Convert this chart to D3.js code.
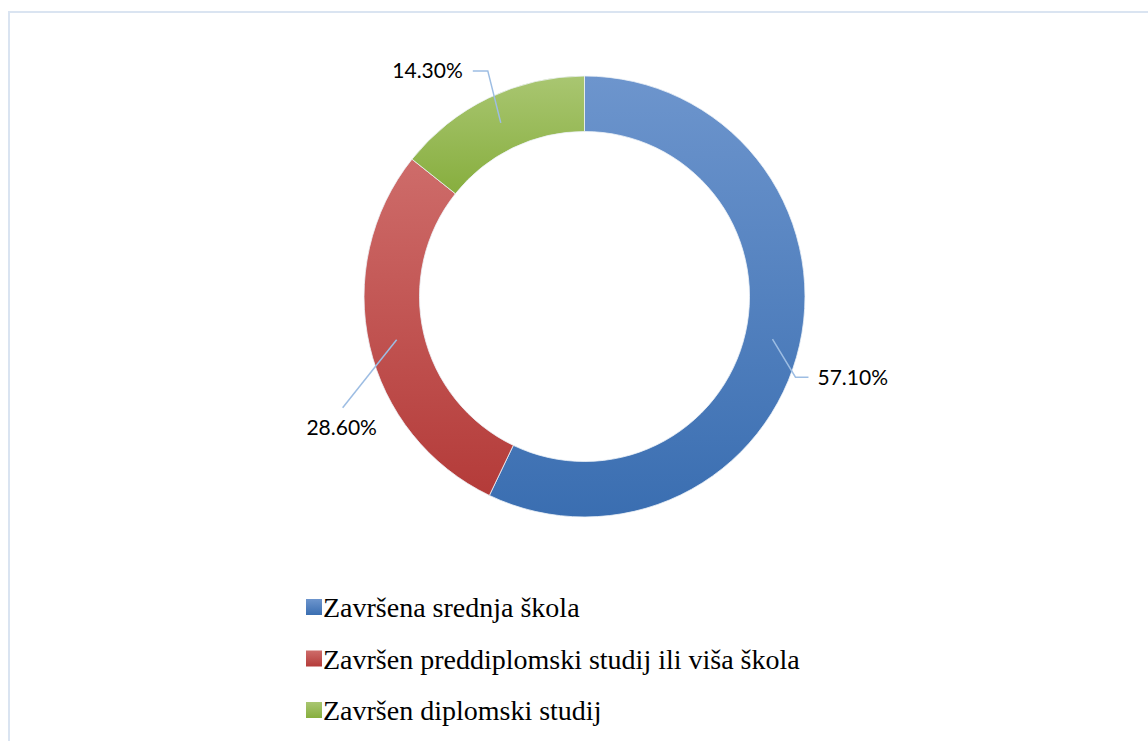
<!DOCTYPE html>
<html>
<head>
<meta charset="utf-8">
<script src="https://cdn.jsdelivr.net/npm/d3@7"></script>
<style>
  body { margin: 0; background: #fff; }
</style>
</head>
<body>
<div id="chart"></div>
<script>
// data
var categories = ["Završena srednja škola", "Završen preddiplomski studij ili viša škola", "Završen diplomski studij"]
var shares = [57.1, 28.6, 14.3]
var labels = ["57.10%", "28.60%", "14.30%"]

var colTop = ["#6d95cd", "#ce6c6a", "#a9c671"]
var colBottom = ["#3a6eb1", "#b43b39", "#87ae3e"]

var width = 1148, height = 741
var cx = 584.5, cy = 296.5
var outerR = 220.5, innerR = 165

var svg = d3.select("#chart").append("svg")
    .attr("width", width)
    .attr("height", height)

// frame
svg.append("rect")
    .attr("x", 9).attr("y", 12)
    .attr("width", 1160).attr("height", 760)
    .attr("fill", "none")
    .attr("stroke", "#dae4f1")
    .attr("stroke-width", 2)

var defs = svg.append("defs")
categories.forEach(function (c, i) {
    var g = defs.append("linearGradient")
        .attr("id", "grad" + i)
        .attr("x1", 0).attr("y1", 0).attr("x2", 0).attr("y2", 1)
    g.append("stop").attr("offset", "0%").attr("stop-color", colTop[i])
    g.append("stop").attr("offset", "100%").attr("stop-color", colBottom[i])
})

var data = categories.map(function (c, i) { return { name: c, value: shares[i], label: labels[i], idx: i } })

// legend first
var legend = svg.append("g").attr("transform", "translate(306,599)")

legend.selectAll("rect")
    .data(data)
    .join("rect")
    .attr("y", (d, i) => i * 51.5)
    .attr("width", 16).attr("height", 16)
    .attr("fill", d => "url(#grad" + d.idx + ")")

legend.selectAll("text")
    .data(data)
    .join("text")
    .attr("x", 17)
    .attr("y", (d, i) => 18 + i * 51.5)
    .attr("font-family", "'Liberation Serif'")
    .style("font-family", "'Liberation Serif', 'Times New Roman', serif", "important")
    .attr("font-size", 28)
    .attr("fill", "#000")
    .text(d => d.name)

var pie = d3.pie().sort(null).value(d => d.value)
var arc = d3.arc().innerRadius(innerR).outerRadius(outerR)
var arcs = pie(data)

var g = svg.append("g").attr("transform", "translate(" + cx + "," + cy + ")")

g.selectAll("path.slice")
    .data(arcs)
    .join("path")
    .attr("class", "slice")
    .attr("d", arc)
    .attr("fill", d => "url(#grad" + d.data.idx + ")")
    .attr("stroke", "#eef2f7")
    .attr("stroke-width", 0.8)

// leader lines + labels (Excel-style placement)
var lineColor = "#9dbde3"
var polar = function (r, a) { return [r * Math.sin(a), -r * Math.cos(a)] }

arcs.forEach(function (d) {
    var mid = (d.startAngle + d.endAngle) / 2
    var p0 = polar((innerR + outerR) / 2, mid)
    var pts, tx, ty, anchor
    if (d.data.idx === 0) {
        var p1 = [p0[0] + 23, p0[1] + 38]
        pts = [p0, p1, [p1[0] + 13, p1[1]]]
        tx = p1[0] + 22; ty = p1[1] + 3; anchor = "start"
    } else if (d.data.idx === 1) {
        var p1 = [p0[0] - 54, p0[1] + 68]
        pts = [p0, p1]
        tx = p1[0] - 1; ty = p1[1] + 22; anchor = "middle"
    } else {
        var p1 = [p0[0] - 13, p0[1] - 52]
        pts = [p0, p1, [p1[0] - 15, p1[1]]]
        tx = p1[0] - 25; ty = p1[1] + 2; anchor = "end"
    }
    g.append("polyline")
        .attr("points", pts.map(p => p.join(",")).join(" "))
        .attr("fill", "none")
        .attr("stroke", lineColor)
        .attr("stroke-width", 1.5)
    g.append("text")
        .attr("x", tx).attr("y", ty)
        .attr("text-anchor", anchor)
        .attr("dominant-baseline", "middle")
        .style("font-family", "Lato")
        .attr("font-size", 21)
        .attr("fill", "#000")
        .text(d.data.label)
})
</script>
</body>
</html>
